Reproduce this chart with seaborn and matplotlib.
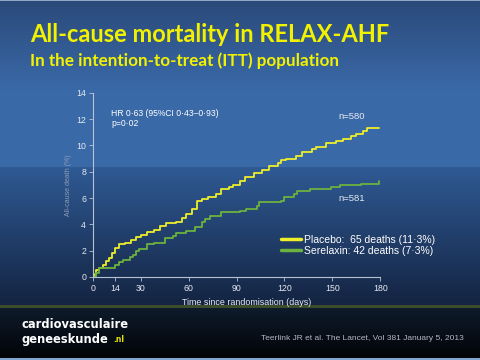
import numpy as np
import pandas as pd
import matplotlib
matplotlib.use('Agg')
import matplotlib.pyplot as plt
import matplotlib.colors as mcolors
import seaborn as sns

# Kaplan-Meier style cumulative all-cause death (%)
placebo_days = [0, 1, 2, 4, 6, 8, 10, 12, 14, 16, 20, 24, 27, 30, 34, 38, 42, 46,
                52, 56, 58, 62, 65, 68, 72, 77, 80, 85, 88, 92, 95, 101, 106, 110,
                116, 118, 121, 127, 131, 137, 140, 146, 152, 157, 162, 165, 169, 172, 179]
placebo_pct = [0, 0.2, 0.5, 0.7, 0.9, 1.2, 1.4, 1.8, 2.2, 2.5, 2.6, 2.8, 3.0, 3.2, 3.4,
               3.6, 3.9, 4.1, 4.2, 4.5, 4.8, 5.2, 5.8, 5.9, 6.1, 6.3, 6.7, 6.8, 7.0, 7.3,
               7.6, 7.9, 8.1, 8.4, 8.7, 8.9, 9.0, 9.2, 9.5, 9.7, 9.9, 10.2, 10.3, 10.5,
               10.7, 10.9, 11.1, 11.3, 11.3]
serelaxin_days = [0, 2, 4, 14, 16, 19, 23, 25, 27, 29, 34, 38, 45, 50, 52, 58, 64, 68,
                  70, 73, 80, 92, 96, 103, 104, 118, 120, 126, 128, 136, 149, 155, 168, 179]
serelaxin_pct = [0, 0.3, 0.65, 0.9, 1.15, 1.3, 1.5, 1.7, 2.0, 2.1, 2.5, 2.6, 2.95, 3.1,
                 3.3, 3.5, 3.8, 4.2, 4.4, 4.6, 4.9, 5.0, 5.2, 5.4, 5.7, 5.8, 6.1, 6.3,
                 6.5, 6.7, 6.8, 7.0, 7.1, 7.3]

groups = ["Placebo:  65 deaths (11·3%)", "Serelaxin: 42 deaths (7·3%)"]
x_ticks = [0, 14, 30, 60, 90, 120, 150, 180]
y_ticks = [0, 2, 4, 6, 8, 10, 12, 14]

df = pd.concat([
    pd.DataFrame({"day": placebo_days, "pct": placebo_pct, "group": groups[0]}),
    pd.DataFrame({"day": serelaxin_days, "pct": serelaxin_pct, "group": groups[1]}),
])


def background():
    # slide gradient, row colours by pixel row
    stops = [(0, "#8fa8c8"), (1, "#2b4a7a"), (60, "#355f99"), (90, "#3a69a8"),
             (166, "#3b6aa9"), (167, "#2f5a94"), (304, "#142442"), (305, "#3c4d2c"),
             (307, "#3c4d2c"), (308, "#0e1b2b"), (357, "#020407"), (358, "#7fa6d0"),
             (359, "#7fa6d0")]
    rows = np.arange(360)
    ys = [s[0] for s in stops]
    cols = np.array([mcolors.to_rgb(s[1]) for s in stops])
    img = np.stack([np.interp(rows, ys, cols[:, i]) for i in range(3)], axis=1)
    img = np.repeat(img[:, None, :], 480, axis=1)
    return img


def main():
    sns.set_theme(style="ticks")
    plt.rcParams['font.family'] = ['Liberation Sans', 'DejaVu Sans']

    fig = plt.figure(figsize=(4.8, 3.6), dpi=100)
    bg = fig.add_axes([0, 0, 1, 1], zorder=0)
    bg.imshow(background(), aspect='auto', extent=[0, 480, 360, 0])
    bg.axis('off')

    ax = fig.add_axes([0.194, 0.231, 0.598, 0.511], zorder=1)
    ax.patch.set_alpha(0)
    sns.lineplot(data=df, x="day", y="pct", hue="group",
                 palette=["#eeee2a", "#6cb23e"], drawstyle="steps-post",
                 linewidth=1.3, ax=ax)

    ax.set_xlim(0, 180)
    ax.set_ylim(0, 14)
    ax.set_xticks(x_ticks)
    ax.set_yticks(y_ticks)
    sns.despine(ax=ax)
    for s in ["left", "bottom"]:
        ax.spines[s].set_color("#b8c2d2")
        ax.spines[s].set_linewidth(0.8)
    ax.tick_params(colors="#b8c2d2", labelcolor="#e6eaf0", labelsize=6.3,
                   length=3, width=0.6, pad=2)

    ax.set_xlabel("Time since randomisation (days)", color="#e6eaf0", fontsize=6.4)
    ax.xaxis.set_label_coords(0.535, -0.115)
    ax.set_ylabel("All-cause death (%)", color="#8e9db5", fontsize=5)
    ax.yaxis.set_label_coords(-0.075, 0.5)

    ax.text(0.064, 0.91, "HR 0·63 (95%CI 0·43–0·93)\np=0·02", transform=ax.transAxes,
            color="white", fontsize=6.2, va="top", linespacing=1.1)
    ax.text(0.90, 0.871, "n=580", transform=ax.transAxes, color="#e6eaf0",
            fontsize=6.8, ha="center", va="center")
    ax.text(0.90, 0.427, "n=581", transform=ax.transAxes, color="#e6eaf0",
            fontsize=6.8, ha="center", va="center")

    leg = ax.legend(loc="center left", bbox_to_anchor=(0.64, 0.1726), frameon=False,
                    fontsize=7.5, handlelength=1.9, handletextpad=0.32,
                    labelspacing=0.08, borderaxespad=0)
    for t in leg.get_texts():
        t.set_color("white")
    for h in leg.get_lines():
        h.set_linewidth(2.5)

    fig.text(30 / 480, 1 - 34 / 360, "All-cause mortality in RELAX-AHF", color="#f2f200",
             fontsize=17, fontweight="bold", family="Lato", va="center")
    fig.text(30 / 480, 1 - 61 / 360, "In the intention-to-treat (ITT) population",
             color="#f2f200", fontsize=12.3, fontweight="bold", family="Lato", va="center")

    fig.text(21 / 480, 1 - 325 / 360, "cardiovasculaire", color="white", fontsize=8.3,
             fontweight="bold", family="DejaVu Sans", va="center")
    fig.text(21 / 480, 1 - 339 / 360, "geneeskunde", color="white", fontsize=8.3,
             fontweight="bold", family="DejaVu Sans", va="center")
    fig.text(113 / 480, 1 - 340 / 360, ".nl", color="#e8e000", fontsize=5.5,
             fontweight="bold", family="DejaVu Sans", va="center")
    fig.text(464 / 480, 1 - 338 / 360, "Teerlink JR et al. The Lancet, Vol 381 January 5, 2013",
             color="#b0b8c4", fontsize=6, ha="right", va="center")

    fig.savefig("out.png", dpi=100)


if __name__ == "__main__":
    main()
